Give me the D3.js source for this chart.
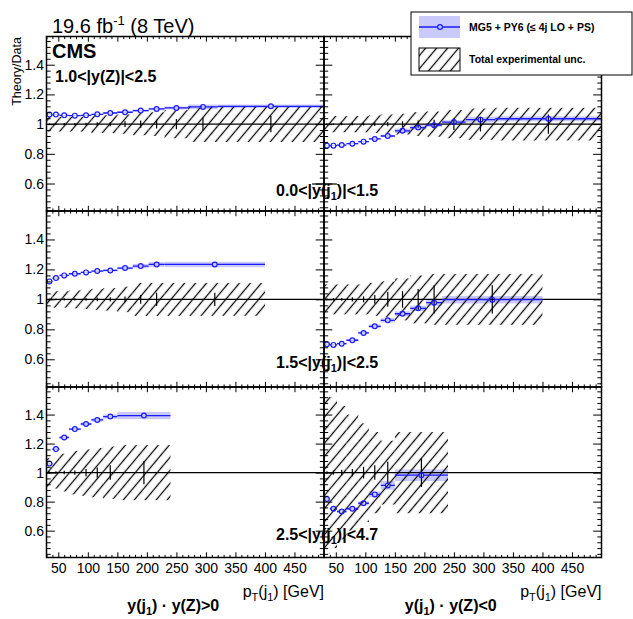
<!DOCTYPE html>
<html><head><meta charset="utf-8">
<script src="https://cdn.jsdelivr.net/npm/d3@7"></script>
<style>
body{margin:0;background:#fff}
svg{display:block}
text{font-family:"Liberation Sans",Arial,Helvetica,sans-serif;fill:#000}
</style>
</head><body>
<svg id="c" width="633" height="619"></svg>
<script>
// ---------------- data ----------------
const ptDomain = [30, 500];
const ratioDomain = [0.415, 1.59];
const ptTicks = [50, 100, 150, 200, 250, 300, 350, 400, 450];
const ptTickLabels = ["50", "100", "150", "200", "250", "300", "350", "400", "450"];
const ratioTicks = [0.6, 0.8, 1.0, 1.2, 1.4];
const ratioTickLabels = ["0.6", "0.8", "1", "1.2", "1.4"];
const jetRapidityEdges = ["0.0", "1.5", "2.5", "4.7"];
const productSign = [">0", "<0"];

const ptEdgesRow1 = [30, 40, 52, 68, 88, 106, 126, 150, 176, 203, 230, 270, 320, 500];
const ptEdgesRow2 = [30, 40, 52, 68, 88, 106, 126, 150, 176, 203, 230, 400];
const ptEdgesRow3 = [30, 40, 52, 68, 88, 106, 126, 150, 240];

// row 1 : 0.0<|y(j1)|<1.5
const theoryRow1Pos = [1.064, 1.064, 1.059, 1.057, 1.059, 1.066, 1.075, 1.080, 1.091, 1.102, 1.109, 1.116, 1.120];
const theoryUncRow1Pos = [0.003, 0.003, 0.003, 0.003, 0.004, 0.004, 0.005, 0.006, 0.007, 0.008, 0.010, 0.016, 0.012];
const expUncRow1Pos = [0.05, 0.05, 0.05, 0.05, 0.05, 0.06, 0.06, 0.065, 0.075, 0.08, 0.095, 0.12, 0.12];
const statRow1Pos = [0.005, 0.006, 0.007, 0.008, 0.01, 0.012, 0.015, 0.02, 0.025, 0.03, 0.035, 0.045, 0.055];

const theoryRow1Neg = [0.855, 0.855, 0.859, 0.868, 0.882, 0.900, 0.920, 0.955, 0.977, 0.993, 1.014, 1.030, 1.036];
const theoryUncRow1Neg = [0.003, 0.003, 0.004, 0.004, 0.005, 0.006, 0.008, 0.015, 0.015, 0.012, 0.012, 0.02, 0.017];
const expUncRow1Neg = [0.055, 0.055, 0.055, 0.055, 0.055, 0.06, 0.065, 0.07, 0.08, 0.085, 0.095, 0.105, 0.11];
const statRow1Neg = [0.005, 0.006, 0.007, 0.008, 0.01, 0.012, 0.015, 0.02, 0.025, 0.03, 0.04, 0.05, 0.065];

// row 2 : 1.5<|y(j1)|<2.5
const theoryRow2Pos = [1.120, 1.142, 1.160, 1.171, 1.180, 1.189, 1.193, 1.209, 1.222, 1.233, 1.233];
const theoryUncRow2Pos = [0.004, 0.004, 0.004, 0.005, 0.005, 0.006, 0.007, 0.009, 0.014, 0.016, 0.018];
const expUncRow2Pos = [0.055, 0.055, 0.055, 0.06, 0.065, 0.07, 0.075, 0.085, 0.11, 0.11, 0.11];
const statRow2Pos = [0.005, 0.006, 0.007, 0.008, 0.01, 0.012, 0.015, 0.02, 0.03, 0.045, 0.045];

const theoryRow2Neg = [0.700, 0.696, 0.704, 0.727, 0.776, 0.820, 0.860, 0.904, 0.940, 0.978, 0.998];
const theoryUncRow2Neg = [0.005, 0.005, 0.006, 0.007, 0.009, 0.012, 0.014, 0.016, 0.018, 0.02, 0.025];
const expUncRow2Neg = [0.10, 0.10, 0.10, 0.10, 0.10, 0.11, 0.12, 0.14, 0.16, 0.17, 0.17];
const statRow2Neg = [0.006, 0.008, 0.01, 0.015, 0.02, 0.03, 0.05, 0.055, 0.07, 0.095, 0.095];

// row 3 : 2.5<|y(j1)|<4.7
const theoryRow3Pos = [1.062, 1.162, 1.242, 1.300, 1.335, 1.363, 1.386, 1.393];
const theoryUncRow3Pos = [0.006, 0.006, 0.007, 0.008, 0.01, 0.012, 0.015, 0.025];
const expUncRow3Pos = [0.10, 0.11, 0.13, 0.15, 0.16, 0.17, 0.18, 0.19];
const statRow3Pos = [0.008, 0.01, 0.012, 0.015, 0.025, 0.035, 0.05, 0.08];

const theoryRow3Neg = [0.818, 0.751, 0.732, 0.751, 0.789, 0.850, 0.912, 0.982];
const theoryUncRow3Neg = [0.008, 0.008, 0.009, 0.01, 0.013, 0.02, 0.03, 0.04];
const expUncRow3Neg = [0.56, 0.52, 0.46, 0.40, 0.34, 0.28, 0.22, 0.28];
const statRow3Neg = [0.01, 0.015, 0.02, 0.025, 0.04, 0.05, 0.075, 0.1];

// ---------------- layout ----------------
const rowsPx = [{top: 36.5, bottom: 211}, {top: 211, bottom: 387}, {top: 387, bottom: 557.5}];
const colsPx = [{left: 46.5, right: 324}, {left: 324, right: 601.5}];
const BLUE = "#1a1aff", BAND = "#c9c9fb";
const FONT = '"Liberation Sans",Arial,Helvetica,sans-serif';

const panels = [
  {row: 0, col: 0, edges: ptEdgesRow1, th: theoryRow1Pos, thu: theoryUncRow1Pos, eu: expUncRow1Pos, st: statRow1Pos},
  {row: 0, col: 1, edges: ptEdgesRow1, th: theoryRow1Neg, thu: theoryUncRow1Neg, eu: expUncRow1Neg, st: statRow1Neg},
  {row: 1, col: 0, edges: ptEdgesRow2, th: theoryRow2Pos, thu: theoryUncRow2Pos, eu: expUncRow2Pos, st: statRow2Pos},
  {row: 1, col: 1, edges: ptEdgesRow2, th: theoryRow2Neg, thu: theoryUncRow2Neg, eu: expUncRow2Neg, st: statRow2Neg},
  {row: 2, col: 0, edges: ptEdgesRow3, th: theoryRow3Pos, thu: theoryUncRow3Pos, eu: expUncRow3Pos, st: statRow3Pos},
  {row: 2, col: 1, edges: ptEdgesRow3, th: theoryRow3Neg, thu: theoryUncRow3Neg, eu: expUncRow3Neg, st: statRow3Neg}
];

const svg = d3.select("#c");
const defs = svg.append("defs");
const HS = 8.4;
const pat = defs.append("pattern").attr("id", "hatch").attr("patternUnits", "userSpaceOnUse")
  .attr("width", HS).attr("height", HS).attr("patternTransform", "rotate(40)");
pat.append("line").attr("x1", HS / 2).attr("x2", HS / 2).attr("y1", -1).attr("y2", HS + 1)
  .attr("stroke", "#000").attr("stroke-width", 1.25);

const ptMinor = d3.range(3, 51).map(i => i * 10).filter(v => v % 50 !== 0);
const ratioMinor = d3.range(11, 40).filter(i => i % 5 !== 0).map(i => +(i * 0.04).toFixed(2));

function styleAxis(g) {
  g.select(".domain").remove();
  g.attr("font-family", FONT).attr("font-size", 14);
  g.selectAll("line").attr("stroke", "#000").attr("stroke-width", 1);
  g.selectAll("text").attr("fill", "#000");
}

panels.forEach((p, idx) => {
  const R = rowsPx[p.row], C = colsPx[p.col];
  const x = d3.scaleLinear().domain(ptDomain).range([C.left, C.right]);
  const y = d3.scaleLinear().domain(ratioDomain).range([R.bottom, R.top]);
  const bins = p.edges.slice(0, -1).map((lo, i) => ({
    lo, hi: p.edges[i + 1], mid: (lo + p.edges[i + 1]) / 2,
    th: p.th[i], thu: p.thu[i], eu: p.eu[i], st: p.st[i]
  }));
  defs.append("clipPath").attr("id", "clip" + idx).append("rect")
    .attr("x", C.left).attr("y", R.top).attr("width", C.right - C.left).attr("height", R.bottom - R.top);
  const g = svg.append("g");
  const inner = g.append("g").attr("clip-path", `url(#clip${idx})`);

  // theory band
  inner.selectAll("rect.band").data(bins).join("rect").attr("class", "band")
    .attr("x", d => x(d.lo)).attr("width", d => x(d.hi) - x(d.lo))
    .attr("y", d => y(d.th + d.thu)).attr("height", d => y(d.th - d.thu) - y(d.th + d.thu))
    .attr("fill", BAND);
  // experimental uncertainty hatch
  inner.selectAll("rect.hatch").data(bins).join("rect").attr("class", "hatch")
    .attr("x", d => x(d.lo)).attr("width", d => x(d.hi) - x(d.lo))
    .attr("y", d => y(1 + d.eu)).attr("height", d => y(1 - d.eu) - y(1 + d.eu))
    .attr("fill", "url(#hatch)");
  // line at 1
  inner.append("line").attr("x1", C.left).attr("x2", C.right).attr("y1", y(1)).attr("y2", y(1))
    .attr("stroke", "#000").attr("stroke-width", 1.3);
  // data stat error bars
  inner.selectAll("line.stat").data(bins).join("line").attr("class", "stat")
    .attr("x1", d => x(d.mid)).attr("x2", d => x(d.mid))
    .attr("y1", d => y(1 - d.st)).attr("y2", d => y(1 + d.st))
    .attr("stroke", "#000").attr("stroke-width", 1.2);
  // theory horizontal bars and markers
  const MR = 2.4;
  inner.selectAll("path.hbar").data(bins).join("path").attr("class", "hbar")
    .attr("d", d => {
      const yy = y(d.th), a = x(d.lo), b = x(d.hi), m = x(d.mid);
      return `M${a},${yy}H${m - MR}M${m + MR},${yy}H${b}`;
    })
    .attr("stroke", BLUE).attr("stroke-width", 1.3).attr("fill", "none");
  inner.selectAll("circle").data(bins).join("circle")
    .attr("cx", d => x(d.mid)).attr("cy", d => y(d.th)).attr("r", MR)
    .attr("fill", "none").attr("stroke", BLUE).attr("stroke-width", 1.2);

  // axes (ROOT-like inward ticks on all four sides)
  const XT = 5.2, YT = 8.3;
  const showX = p.row === 2, showY = p.col === 0;
  g.append("g").attr("transform", `translate(0,${R.bottom})`)
    .call(d3.axisBottom(x).tickValues(ptTicks).tickSizeInner(-XT).tickSizeOuter(0).tickPadding(5.5)
      .tickFormat((d, i) => showX ? ptTickLabels[i] : "")).call(styleAxis);
  g.append("g").attr("transform", `translate(0,${R.bottom})`)
    .call(d3.axisBottom(x).tickValues(ptMinor).tickSizeInner(-XT / 2).tickSizeOuter(0).tickFormat("")).call(styleAxis);
  g.append("g").attr("transform", `translate(0,${R.top})`)
    .call(d3.axisTop(x).tickValues(ptTicks).tickSizeInner(-XT).tickSizeOuter(0).tickFormat("")).call(styleAxis);
  g.append("g").attr("transform", `translate(0,${R.top})`)
    .call(d3.axisTop(x).tickValues(ptMinor).tickSizeInner(-XT / 2).tickSizeOuter(0).tickFormat("")).call(styleAxis);
  g.append("g").attr("transform", `translate(${C.left},0)`)
    .call(d3.axisLeft(y).tickValues(ratioTicks).tickSizeInner(-YT).tickSizeOuter(0).tickPadding(2.5)
      .tickFormat((d, i) => showY ? ratioTickLabels[i] : "")).call(styleAxis);
  g.append("g").attr("transform", `translate(${C.left},0)`)
    .call(d3.axisLeft(y).tickValues(ratioMinor).tickSizeInner(-YT / 2).tickSizeOuter(0).tickFormat("")).call(styleAxis);
  g.append("g").attr("transform", `translate(${C.right},0)`)
    .call(d3.axisRight(y).tickValues(ratioTicks).tickSizeInner(-YT).tickSizeOuter(0).tickFormat("")).call(styleAxis);
  g.append("g").attr("transform", `translate(${C.right},0)`)
    .call(d3.axisRight(y).tickValues(ratioMinor).tickSizeInner(-YT / 2).tickSizeOuter(0).tickFormat("")).call(styleAxis);
  // frame
  g.append("rect").attr("x", C.left).attr("y", R.top).attr("width", C.right - C.left).attr("height", R.bottom - R.top)
    .attr("fill", "none").attr("stroke", "#000").attr("stroke-width", 1.5);
});

// ---------------- texts ----------------
const title = svg.append("text").attr("x", 52).attr("y", 33).attr("font-size", 20);
title.append("tspan").text("19.6 fb");
title.append("tspan").attr("dy", -8).attr("font-size", 13).text("-1");
title.append("tspan").attr("dy", 8).text(" (8 TeV)");

svg.append("text").attr("x", 52).attr("y", 58).attr("font-size", 20).attr("font-weight", "bold").text("CMS");
svg.append("text").attr("x", 55).attr("y", 82).attr("font-size", 16).attr("font-weight", "bold").text("1.0<|y(Z)|<2.5");

svg.append("text").attr("transform", "translate(21,37) rotate(-90)").attr("text-anchor", "end")
  .attr("font-size", 12.5).text("Theory/Data");

const rowBaselines = [196, 368, 540];
rowBaselines.forEach((yb, i) => {
  const t = svg.append("text").attr("x", 276).attr("y", yb).attr("font-size", 16).attr("font-weight", "bold");
  t.append("tspan").text(`${jetRapidityEdges[i]}<|y(j`);
  t.append("tspan").attr("font-size", 11).attr("dy", 4).text("1");
  t.append("tspan").attr("dy", -4).text(`)|<${jetRapidityEdges[i + 1]}`);
  if (i === 0) {
    const node = t.node();
    const s = node.getStartPositionOfChar(5).x;
    const e = node.getEndPositionOfChar(8).x;
    svg.append("line").attr("x1", s).attr("x2", e).attr("y1", yb - 12).attr("y2", yb - 12)
      .attr("stroke", "#000").attr("stroke-width", 1.2);
  }
});

colsPx.forEach((C, i) => {
  const t = svg.append("text").attr("x", C.right).attr("y", 597).attr("text-anchor", "end").attr("font-size", 16);
  t.append("tspan").text("p");
  t.append("tspan").attr("font-size", 11).attr("dy", 4).text("T");
  t.append("tspan").attr("dy", -4).text("(j");
  t.append("tspan").attr("font-size", 11).attr("dy", 4).text("1");
  t.append("tspan").attr("dy", -4).text(") [GeV]");
  const b = svg.append("text").attr("x", (C.left + C.right) / 2 - 12).attr("y", 611).attr("text-anchor", "middle")
    .attr("font-size", 16).attr("font-weight", "bold");
  b.append("tspan").text("y(j");
  b.append("tspan").attr("font-size", 11).attr("dy", 4).text("1");
  b.append("tspan").attr("dy", -4).text(`) \u00B7 y(Z)${productSign[i]}`);
});

// ---------------- legend ----------------
const lg = svg.append("g");
lg.append("rect").attr("x", 411).attr("y", 12).attr("width", 221).attr("height", 63)
  .attr("fill", "#fff").attr("stroke", "#000").attr("stroke-width", 1);
lg.append("rect").attr("x", 419).attr("y", 16).attr("width", 41).attr("height", 22).attr("fill", BAND);
lg.append("path").attr("d", "M419,27H437.6M442.4,27H460").attr("stroke", BLUE).attr("stroke-width", 1.3);
lg.append("circle").attr("cx", 440).attr("cy", 27).attr("r", 2.4).attr("fill", "none").attr("stroke", BLUE).attr("stroke-width", 1.2);
lg.append("rect").attr("x", 419).attr("y", 48).attr("width", 41).attr("height", 23)
  .attr("fill", "url(#hatch)").attr("stroke", "#000").attr("stroke-width", 1);
lg.append("text").attr("x", 469).attr("y", 31).attr("font-size", 10.5).attr("font-weight", "bold")
  .text("MG5 + PY6 (\u2264 4j LO + PS)");
lg.append("text").attr("x", 469).attr("y", 63).attr("font-size", 10.5).attr("font-weight", "bold")
  .text("Total experimental unc.");
</script>
</body></html>
